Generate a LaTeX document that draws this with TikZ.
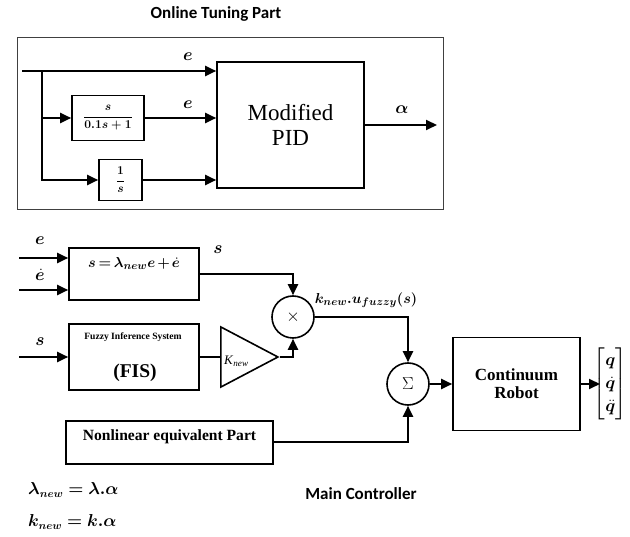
\documentclass[tikz,border=0pt]{standalone}
\usepackage{amsmath,bm}
\usepackage{fontspec}
\setmainfont{Liberation Serif}
\newfontfamily\calib{Carlito}
\usetikzlibrary{arrows.meta,shapes.geometric}
\tikzset{
  blk/.style={draw, line width=1.6pt, inner sep=0pt, fill=white},
  flow/.style={line width=2pt, -{Triangle[length=11pt,width=10pt]}},
  wire/.style={line width=2pt},
  sumc/.style={draw, circle, line width=1.6pt, minimum size=42pt, inner sep=0pt},
  sanslbl/.style={font=\calib\bfseries\fontsize{17}{20}\selectfont},
  mlbl/.style={font=\fontsize{16}{19}\selectfont, inner sep=0pt},
}
\begin{document}
\begin{tikzpicture}[x=1pt,y=-1pt]
\useasboundingbox (0,0) rectangle (630,537);
% ---------- Online tuning part ----------
\node[sanslbl] (ttl) at (216,14) {Online Tuning Part};
\node[draw=black!75, line width=1pt, minimum width=426pt, minimum height=172pt, inner sep=0pt] (frame) at (230,124) {};
\node[blk, minimum width=147pt, minimum height=126pt, font=\fontsize{23}{25}\selectfont, align=center] (pid) at (290.5,125) {Modified\\PID};
\node[blk, minimum width=72pt, minimum height=45pt] (tfa) at (108,118) {\fontsize{12}{14}\selectfont$\bm{\dfrac{s}{0.1s+1}}$};
\node[blk, minimum width=43pt, minimum height=41pt] (tfb) at (120.5,180) {\fontsize{12}{14}\selectfont$\bm{\dfrac{1}{s}}$};
\coordinate (in1) at (22,71);
\coordinate (br1) at (42,71);
\coordinate (out1) at (437,125);
\draw[flow] (in1) -- (in1 -| pid.west);
\draw[flow] (br1) |- (tfb.west);
\draw[flow] (br1 |- tfa.west) -- (tfa.west);
\draw[flow] (tfa.east) -- (tfa.east -| pid.west);
\draw[flow] (tfb.east) -- (tfb.east -| pid.west);
\draw[flow] (pid.east) -- (out1);
\node[mlbl] (le1) at (188,57) {$\bm{e}$};
\node[mlbl] (le2) at (188,105) {$\bm{e}$};
\node[mlbl] (lal) at (402,110) {$\bm{\alpha}$};
% ---------- Main controller ----------
\node[blk, minimum width=130pt, minimum height=52pt, text depth=23pt, font=\fontsize{15.5}{18}\selectfont] (sbox) at (134,274) {\medmuskip=2.5mu\thickmuskip=3.5mu$\bm{s=\lambda_{new}e+\dot e}$};
\coordinate (ein) at (19,258);
\coordinate (edin) at (19,290);
\draw[flow] (ein) -- (ein -| sbox.west);
\draw[flow] (edin) -- (edin -| sbox.west);
\node[mlbl] (lbe) at (40,241) {$\bm{e}$};
\node[mlbl] (lbed) at (40,275) {$\bm{\dot e}$};
\node[mlbl] (lbs1) at (218,250) {$\bm{s}$};
\node[sumc] (mult) at (293,317) {\fontsize{16}{18}\selectfont$\times$};
\draw[flow] (sbox.east) -| (mult.north);
\node[blk, minimum width=130pt, minimum height=66pt] (fis) at (134,357) {};
\node[font=\bfseries\fontsize{9.6}{11}\selectfont, inner sep=0pt] (fist) at (133,337) {Fuzzy Inference System};
\node[font=\bfseries\fontsize{19.5}{22}\selectfont, inner sep=0pt] (fisl) at (135,373) {(FIS)};
\coordinate (sin) at (19,357);
\draw[flow] (sin) -- (fis.west);
\node[mlbl] (lbs2) at (40,342) {$\bm{s}$};
\node[draw, line width=1.6pt, isosceles triangle, isosceles triangle stretches, minimum width=60pt, minimum height=57pt, inner sep=0pt, anchor=apex] (gain) at (280,357) {};
\node[font=\fontsize{13}{15}\selectfont, inner sep=0pt, anchor=west] (klbl) at (224,361) {\textit{K}\textsubscript{\textit{new}}};
\draw[wire] (fis.east) -- (fis.east -| gain.lower side);
\draw[flow] (gain.apex) -| (mult.south);
\node[inner sep=0pt, font=\fontsize{15.5}{18}\selectfont] (lku) at (366,300) {$\bm{k_{new}.u_{fuzzy}(s)}$};
\node[sumc] (sum) at (408,384) {\fontsize{16}{18}\selectfont$\Sigma$};
\draw[flow] (mult.east) -| (sum.north);
\node[blk, minimum width=127pt, minimum height=93pt, font=\bfseries\fontsize{17}{18}\selectfont, align=center] (robot) at (516.5,384) {Continuum\\Robot};
\draw[flow] (sum.east) -- (robot.west);
\coordinate (qout) at (600,384);
\draw[flow] (robot.east) -- (qout);
\node[inner sep=0pt, font=\fontsize{16}{23}\selectfont, anchor=east] (qvec) at (627,384) {$\left[\begin{array}{@{}c@{}}\bm{q}\\\bm{\dot q}\\\bm{\ddot q}\end{array}\right]$};
\node[blk, minimum width=207pt, minimum height=43pt, text depth=15pt, font=\bfseries\fontsize{15.6}{18}\selectfont] (nl) at (169.5,442.5) {Nonlinear equivalent Part};
\draw[flow] (nl.east) -| (sum.south);
\node[anchor=west, inner sep=0pt, font=\fontsize{16}{19}\selectfont] (eq1) at (28,490) {$\bm{\lambda_{new}=\lambda.\alpha}$};
\node[anchor=west, inner sep=0pt, font=\fontsize{16}{19}\selectfont] (eq2) at (28,522) {$\bm{k_{new}=k.\alpha}$};
\node[sanslbl] (mc) at (361,494) {Main Controller};
\end{tikzpicture}
\end{document}
